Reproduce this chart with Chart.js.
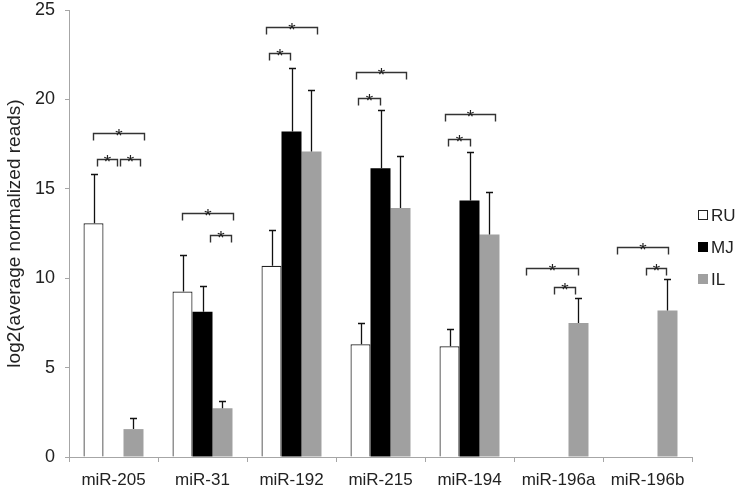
<!DOCTYPE html>
<html><head><meta charset="utf-8">
<script src="https://cdn.jsdelivr.net/npm/chart.js@4"></script>
<style>html,body{margin:0;padding:0;background:#fff}#wrap{width:739px;height:492px;position:relative}</style>
</head><body><div id="wrap"><canvas id="c" width="739" height="492"></canvas></div>
<script>
const categories = ['miR-205', 'miR-31', 'miR-192', 'miR-215', 'miR-194', 'miR-196a', 'miR-196b'];
const seriesNames = ['RU', 'MJ', 'IL'];
const ruValues = [13.07, 9.26, 10.7, 6.3, 6.19, 0, 0];
const ruErrors = [2.73, 2.03, 1.97, 1.22, 0.99, null, null];
const mjValues = [0, 8.13, 18.2, 16.15, 14.34, 0, 0];
const mjErrors = [null, 1.41, 3.58, 3.25, 2.70, null, null];
const ilValues = [1.56, 2.72, 17.08, 13.93, 12.44, 7.49, 8.2];
const ilErrors = [0.62, 0.42, 3.44, 2.91, 2.40, 1.40, 1.77];
const yTicks = [0, 5, 10, 15, 20, 25];
// significance brackets: category index, start/end offset (fraction of category), height
const bracketCategory = [0, 0, 0, 1, 1, 2, 2, 3, 3, 4, 4, 5, 5, 6, 6];
const bracketStart = [-0.23, -0.19, 0.07, -0.23, 0.08, -0.29, -0.25, -0.28, -0.25, -0.28, -0.24, -0.36, -0.05, -0.34, -0.02];
const bracketEnd = [0.34, 0.04, 0.30, 0.34, 0.32, 0.29, -0.02, 0.29, -0.01, 0.29, 0.0, 0.22, 0.19, 0.23, 0.21];
const bracketLevel = [18.1, 16.67, 16.67, 13.63, 12.43, 24.07, 22.62, 21.52, 20.1, 19.18, 17.8, 10.59, 9.5, 11.72, 10.59];

const FONT = "'Liberation Sans', Arial, sans-serif";
const errorSets = [ruErrors, mjErrors, ilErrors];

const extrasPlugin = {
  id: 'extras',
  afterDatasetsDraw(chart) {
    const ctx = chart.ctx;
    const xs = chart.scales.x, ys = chart.scales.y;
    ctx.save();
    // error bars
    ctx.strokeStyle = '#111';
    ctx.lineWidth = 1.3;
    chart.data.datasets.forEach((ds, di) => {
      const meta = chart.getDatasetMeta(di);
      const errs = errorSets[di];
      meta.data.forEach((bar, j) => {
        const e = errs[j];
        if (e == null) return;
        const v = ds.data[j];
        const x = Math.round(bar.x) + 0.5;
        const y0 = ys.getPixelForValue(v);
        const y1 = Math.round(ys.getPixelForValue(v + e)) + 0.5;
        ctx.beginPath();
        ctx.moveTo(x, y0); ctx.lineTo(x, y1);
        ctx.moveTo(x - 3.5, y1); ctx.lineTo(x + 3.5, y1);
        ctx.stroke();
      });
    });
    // brackets
    const cw = xs.getPixelForValue(1) - xs.getPixelForValue(0);
    ctx.strokeStyle = '#333';
    ctx.fillStyle = '#222';
    ctx.lineWidth = 1.4;
    ctx.font = '19px ' + FONT;
    ctx.textAlign = 'center';
    ctx.textBaseline = 'alphabetic';
    for (let k = 0; k < bracketCategory.length; k++) {
      const c = xs.getPixelForValue(bracketCategory[k]);
      const xa = Math.round(c + bracketStart[k] * cw) + 0.5;
      const xb = Math.round(c + bracketEnd[k] * cw) + 0.5;
      const y = Math.round(ys.getPixelForValue(bracketLevel[k])) + 0.5;
      ctx.beginPath();
      ctx.moveTo(xa, y + 7); ctx.lineTo(xa, y); ctx.lineTo(xb, y); ctx.lineTo(xb, y + 7);
      ctx.stroke();
      ctx.fillText('*', (xa + xb) / 2, y + 8);
    }
    ctx.restore();
  },
  afterDraw(chart) {
    const ctx = chart.ctx;
    ctx.save();
    ctx.font = '17px ' + FONT;
    ctx.textBaseline = 'middle';
    ctx.textAlign = 'left';
    const x0 = chart.chartArea.right + 6;
    chart.data.datasets.forEach((ds, i) => {
      const cy = 215 + i * 32;
      ctx.fillStyle = ds.backgroundColor;
      ctx.fillRect(x0, cy - 5, 10, 10);
      if (ds.borderWidth) {
        ctx.strokeStyle = ds.borderColor;
        ctx.lineWidth = 1;
        ctx.strokeRect(x0 + 0.5, cy - 4.5, 9, 9);
      }
      ctx.fillStyle = '#222';
      ctx.fillText(ds.label, x0 + 13, cy + 1);
    });
    ctx.restore();
  }
};

new Chart(document.getElementById('c'), {
  type: 'bar',
  data: {
    labels: categories,
    datasets: [
      { label: seriesNames[0], data: ruValues, backgroundColor: '#ffffff', borderColor: '#222', borderWidth: 1.2, borderSkipped: 'bottom' },
      { label: seriesNames[1], data: mjValues, backgroundColor: '#000000', borderWidth: 0 },
      { label: seriesNames[2], data: ilValues, backgroundColor: '#a0a0a0', borderWidth: 0 }
    ]
  },
  options: {
    responsive: false,
    animation: false,
    devicePixelRatio: 1,
    layout: { padding: { top: 0, right: 47, left: 0, bottom: 0 } },
    datasets: { bar: { categoryPercentage: 0.674, barPercentage: 1.0 } },
    plugins: { legend: { display: false }, tooltip: { enabled: false } },
    scales: {
      x: {
        grid: { display: true, drawOnChartArea: false, drawTicks: true, tickLength: 5, color: '#a6a6a6', offset: true },
        border: { color: '#a6a6a6', width: 1 },
        ticks: { color: '#222', font: { family: FONT, size: 17 }, padding: 8, maxRotation: 0 },
        afterFit(s) { s.height = 35; s.paddingLeft = 0; s.paddingRight = 0; }
      },
      y: {
        min: 0, max: 25,
        afterBuildTicks(s) { s.ticks = yTicks.map(v => ({ value: v })); },
        grid: { display: true, drawOnChartArea: false, drawTicks: true, tickLength: 4, color: '#a6a6a6' },
        border: { color: '#a6a6a6', width: 1 },
        ticks: { color: '#222', font: { family: FONT, size: 18 }, padding: 10 },
        title: { display: true, text: 'log2(average normalized reads)', color: '#222', font: { family: FONT, size: 19 }, padding: { top: 3, bottom: 0 } },
        afterFit(s) { s.width = 69; s.paddingTop = 10; s.paddingBottom = 0; }
      }
    }
  },
  plugins: [extrasPlugin]
});
</script>
</body></html>
